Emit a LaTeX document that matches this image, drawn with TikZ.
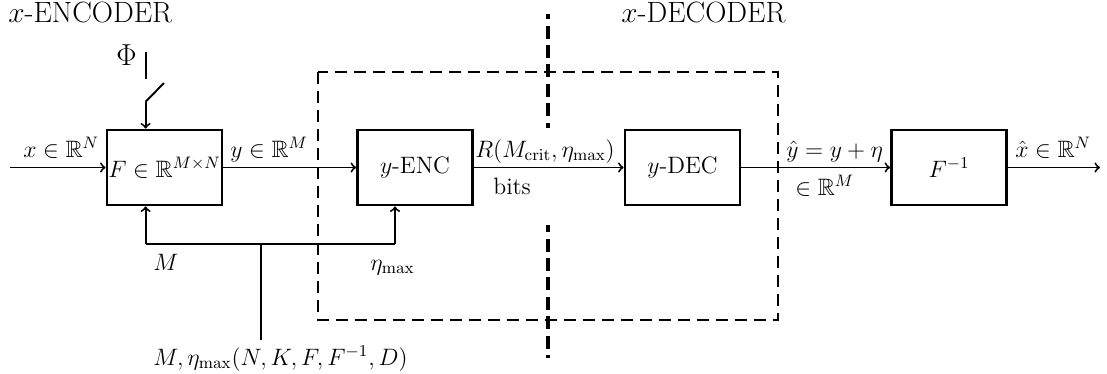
\documentclass[tikz,border=0pt]{standalone}
\usepackage{fix-cm}
\usepackage{amssymb}
\usetikzlibrary{arrows}
\tikzset{
  blk/.style={draw, line width=1.6pt, minimum width=2.3cm, minimum height=1.5cm, inner sep=0pt, font=\fontsize{13.5}{16}\selectfont},
  lbl/.style={inner sep=0pt, anchor=base west, font=\fontsize{13.5}{16}\selectfont},
  ttl/.style={inner sep=0pt, anchor=base west, font=\fontsize{16.7}{20}\selectfont},
  conn/.style={line width=1.1pt},
  arr/.style={conn, ->},
  frame/.style={line width=1.1pt, dash pattern=on 0.24cm off 0.14cm},
  sep/.style={line width=2.8pt, dash pattern=on 0.26cm off 0.13cm}
}
\begin{document}
\begin{tikzpicture}[x=0.02cm, y=-0.02cm]
\useasboundingbox (0,0) rectangle (1107,373);
% dashed frame
\draw[frame] (318,71.7) rectangle (777.7,320);
% thick separator
\coordinate (s1) at (548,14);
\coordinate (s2) at (548,128);
\coordinate (s3) at (548,225);
\coordinate (s4) at (548,358);
\draw[sep, dash phase=0.16cm] (s1) -- (s2);
\draw[sep, dash phase=0.12cm] (s3) -- (s4);
% blocks
\node[blk] (F) at (164.5,167.5) {$F\in\mathbb{R}^{M\times N}$};
\node[blk] (E) at (415,167.5) {$y$-ENC};
\node[blk] (D) at (682.5,167.5) {$y$-DEC};
\node[blk] (Fi) at (949,167.5) {$F^{-1}$};
% input/output
\coordinate (in) at (10,167.5);
\coordinate (out) at (1100,167.5);
\draw[arr] (in) -- (F);
\draw[arr] (F) -- (E);
\draw[arr] (E) -- (D);
\draw[arr] (D) -- (Fi);
\draw[arr] (Fi) -- (out);
% switch
\coordinate (w1) at (145.6,52);
\coordinate (w2) at (145.6,79);
\coordinate (w3) at (145.6,101.7);
\coordinate (w4) at (164,83);
\draw[conn] (w1) -- (w2);
\draw[conn] (w3) -- (w4);
\draw[arr] (w3) -- (w3 |- F.north);
\node[inner sep=0pt, anchor=base west, font=\fontsize{17.28}{20}\selectfont] (phi) at (116,65) {$\Phi$};
% feedback
\coordinate (fL) at (145.6,244);
\coordinate (fR) at (395,244);
\coordinate (fM) at (261,244);
\coordinate (fB) at (261,340);
\draw[conn] (fL) -- (fR);
\draw[conn] (fM) -- (fB);
\draw[arr] (fL) -- (fL |- F.south);
\draw[arr] (fR) -- (fR |- E.south);
% labels
\node[ttl] (tE) at (8,22) {$x$-ENCODER};
\node[ttl] (tD) at (621,22) {$x$-DECODER};
\node[lbl] (lx) at (23,157) {$x\in\mathbb{R}^N$};
\node[lbl] (ly) at (230,157) {$y\in\mathbb{R}^M$};
\node[lbl] (lR) at (475,157) {$R(M_{\mathrm{crit}},\eta_{\max})$};
\node[lbl] (lb) at (493,194) {bits};
\node[lbl] (lyh) at (786,157) {$\hat{y}=y+\eta$};
\node[lbl] (lin) at (795,195) {$\in\mathbb{R}^M$};
\node[lbl] (lxh) at (1015,157) {$\hat{x}\in\mathbb{R}^N$};
\node[lbl] (lM) at (153,270) {$M$};
\node[lbl] (leta) at (370,270) {$\eta_{\max}$};
\node[lbl] (lbot) at (153,365) {$M,\eta_{\max}(N,K,F,F^{-1},D)$};
\end{tikzpicture}
\end{document}
